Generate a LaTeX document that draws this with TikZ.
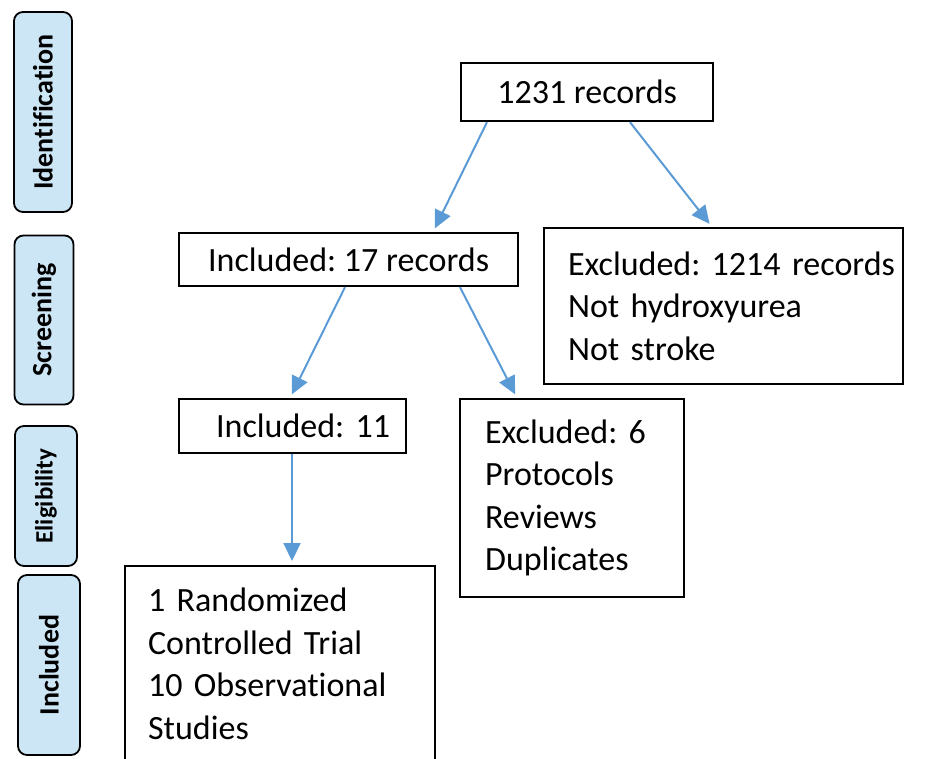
\documentclass[tikz,border=0pt]{standalone}
\usepackage{fontspec}
\setmainfont[Ligatures=NoCommon]{Carlito}
\usetikzlibrary{arrows.meta}
\definecolor{linkblue}{RGB}{91,155,213}
\definecolor{stagefill}{RGB}{205,230,245}
\frenchspacing
\begin{document}
\begin{tikzpicture}[x=1pt, y=-1pt,
    box/.style = {draw, line width=2.2pt, inner sep=0pt, font=\fontsize{34}{42.5}\selectfont},
    stage/.style = {draw, rounded corners=9pt, fill=stagefill, line width=1.8pt, rotate=90, inner sep=0pt, font=\fontsize{28}{30}\selectfont\bfseries},
    link/.style = {linkblue, line width=2pt, shorten >=4pt, -{Triangle[length=18pt, width=17pt]}}]
    \useasboundingbox (0,0) rectangle (925,758);
    % stages
    \node[stage, minimum width=200pt, minimum height=58pt] (ident) at (43,112) {Identification};
    \node[stage, minimum width=169pt, minimum height=59pt] (screen) at (44,320) {Screening};
    \node[stage, minimum width=140pt, minimum height=62pt, font=\fontsize{25}{30}\selectfont\bfseries] (elig) at (46,496) {Eligibility};
    \node[stage, minimum width=180pt, minimum height=62pt] (incl) at (49,665) {Included};
    % boxes
    \node[box, anchor=north west, minimum width=252pt, minimum height=58pt] (rec) at (460,62) {1231 records};
    \node[box, anchor=north west, minimum width=339pt, minimum height=53pt] (inc17) at (178,232) {Included: 17 records};
    \node[box, anchor=north west, inner xsep=24pt, text width=311pt, align=left, minimum height=156pt] (exc1214) at (543,227) {\mbox{Excluded: 1214 records}\\Not hydroxyurea\\Not stroke};
    \node[box, anchor=north west, inner xsep=37pt, text width=153pt, align=left, minimum height=54pt] (inc11) at (178,398) {\mbox{Included: 11}};
    \node[box, anchor=north west, inner xsep=25pt, text width=174pt, align=left, minimum height=198pt] (exc6) at (459,398) {Excluded: 6\\Protocols\\Reviews\\Duplicates};
    \node[box, anchor=north west, inner xsep=23pt, inner ysep=22pt, text width=264pt, align=left] (final) at (124,565) {1 Randomized\\Controlled Trial\\10 Observational\\Studies\strut};
    % arrows
    \draw[link] ([xshift=27pt]rec.south west) -- ([xshift=255pt]inc17.north west);
    \draw[link] ([xshift=170pt]rec.south west) -- ([xshift=169pt]exc1214.north west);
    \draw[link] ([xshift=167pt]inc17.south west) -- ([xshift=112pt]inc11.north west);
    \draw[link] ([xshift=282pt]inc17.south west) -- ([xshift=58pt]exc6.north west);
    \draw[link] ([xshift=114pt]inc11.south west) -- ([xshift=114pt]inc11.south west |- final.north);
\end{tikzpicture}
\end{document}
